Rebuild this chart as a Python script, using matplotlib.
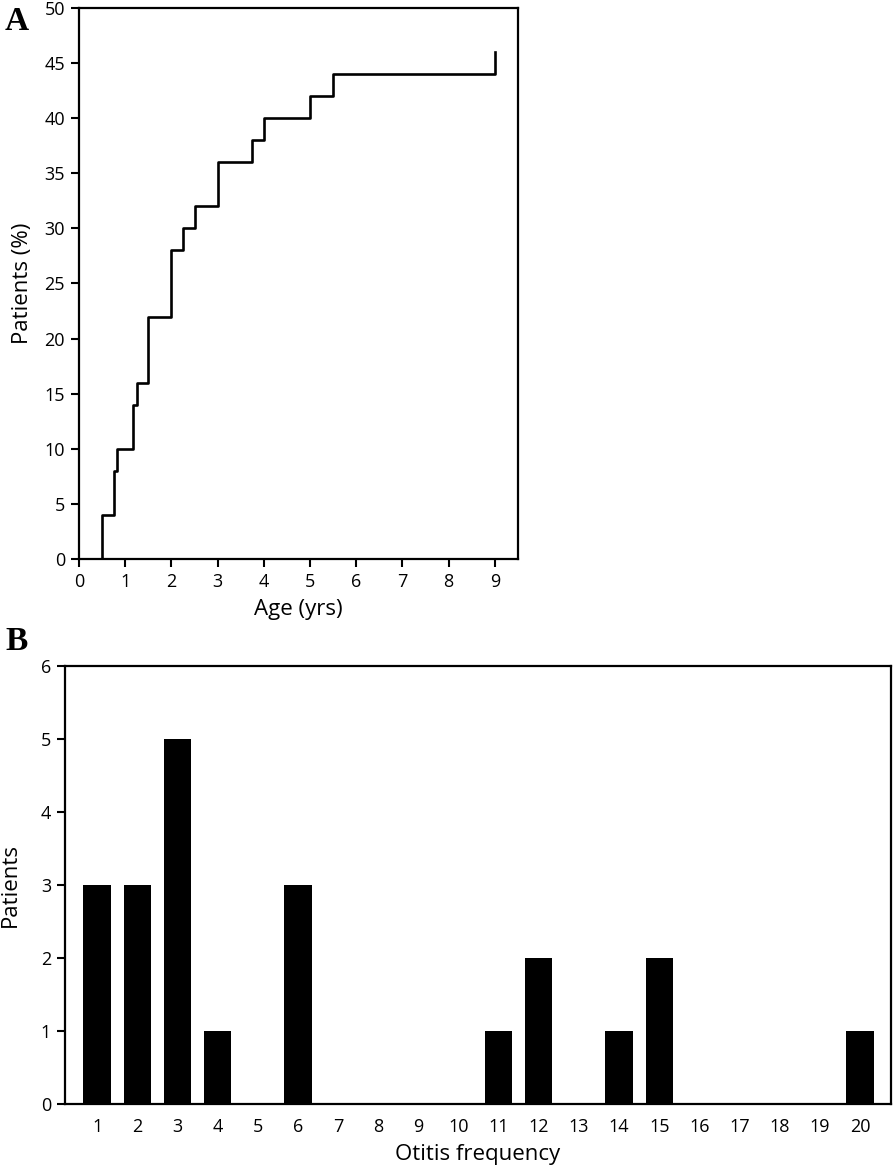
import matplotlib
matplotlib.use("Agg")
import matplotlib.pyplot as plt

# panel A: cumulative onset age
ages = [0.5, 0.75, 0.83, 1.17, 1.25, 1.5, 2.0, 2.25, 2.5, 3.0, 3.75, 4.0, 5.0, 5.5, 9.0]
pct = [4, 8, 10, 14, 16, 22, 28, 30, 32, 36, 38, 40, 42, 44, 46]

# panel B: otitis frequency histogram
freq_labels = [str(i) for i in range(1, 21)]
patients = [3, 3, 5, 1, 0, 3, 0, 0, 0, 0, 1, 2, 0, 1, 2, 0, 0, 0, 0, 1]

plt.rcParams['font.family'] = ['Open Sans', 'DejaVu Sans']

fig = plt.figure(figsize=(8.96, 11.68), dpi=100)
W, H = 896, 1168

def box(l, t, r, b):
    return [l / W, 1 - b / H, (r - l) / W, (b - t) / H]

ax1 = fig.add_axes(box(79, 8, 518, 559))
ax1.step([0.5] + ages, [0] + pct, where='post', color='black', lw=1.9)
ax1.set_xlim(0, 9.5)
ax1.set_ylim(0, 50)
ax1.set_xticks(range(0, 10))
ax1.set_yticks(range(0, 51, 5))
ax1.set_xlabel('Age (yrs)', fontsize=16, labelpad=6)
ax1.set_ylabel('Patients (%)', fontsize=16, labelpad=8)
ax1.tick_params(labelsize=13, width=1.5, length=6, direction='out', pad=4)
for s in ax1.spines.values():
    s.set_linewidth(1.6)

ax2 = fig.add_axes(box(65, 666, 891, 1104))
x = list(range(1, 21))
ax2.bar(x, patients, width=0.68, color='black')
ax2.set_xlim(0.2, 20.77)
ax2.set_ylim(0, 6)
ax2.set_xticks(x)
ax2.set_xticklabels(freq_labels)
ax2.set_yticks(range(0, 7))
ax2.tick_params(axis='x', length=0, pad=10, labelsize=13)
ax2.tick_params(axis='y', labelsize=13, width=1.5, length=6, pad=4)
ax2.set_xlabel('Otitis frequency', fontsize=16, labelpad=6)
ax2.set_ylabel('Patients', fontsize=16, labelpad=14)
for s in ax2.spines.values():
    s.set_linewidth(1.6)

fig.text(5 / W, 1 - 30 / H, 'A', fontsize=24, fontweight='bold', family='Liberation Serif')
fig.text(5 / W, 1 - 650 / H, 'B', fontsize=24, fontweight='bold', family='Liberation Serif')

fig.savefig('out.png', dpi=100)
